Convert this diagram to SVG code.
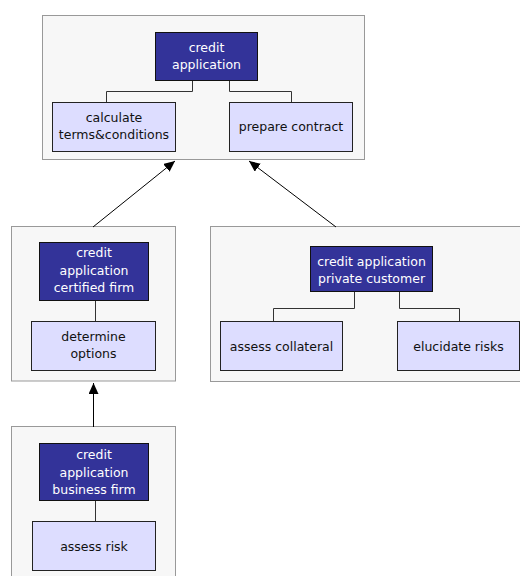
<svg xmlns="http://www.w3.org/2000/svg" width="520" height="576" viewBox="0 0 520 576">
<style>
.cont{fill:#f7f7f7;stroke:#999999;stroke-width:1}
.dark{fill:#333399;stroke:#111111;stroke-width:1}
.light{fill:#ddddff;stroke:#222222;stroke-width:1}
.tw{font-family:"DejaVu Sans",Verdana,sans-serif;font-size:12.5px;fill:#ffffff;text-anchor:middle}
.tb{font-family:"DejaVu Sans",Verdana,sans-serif;font-size:12.5px;fill:#111111;text-anchor:middle}
.link{fill:none;stroke:#333333;stroke-width:1}
.arrow{fill:none;stroke:#000000;stroke-width:1}
</style>
<defs>
<marker id="ah" markerUnits="userSpaceOnUse" markerWidth="12" markerHeight="10" refX="11" refY="5" orient="auto">
<path d="M0,0 L11,5 L0,10 Z" fill="#000000"/>
</marker>
</defs>
<g id="containers">
<rect class="cont" x="42.5" y="15.5" width="322" height="144"/>
<rect class="cont" x="11.5" y="226.5" width="164" height="154.5"/>
<rect class="cont" x="210.5" y="226.5" width="320" height="155"/>
<rect class="cont" x="11.5" y="426.5" width="164" height="160"/>
</g>
<g id="connectors">
<path class="link" d="M192.5,80.5 V91.5 H106.5 V102.5"/>
<path class="link" d="M229.5,80.5 V91.5 H291.5 V102.5"/>
<path class="link" d="M354.5,291.5 V308.5 H273.5 V321.5"/>
<path class="link" d="M399.5,291.5 V308.5 H459.5 V321.5"/>
<path class="link" d="M95.5,300.5 V321.5" stroke="#666666"/>
<path class="link" d="M95.5,500.5 V521.5" stroke="#666666"/>
<path class="arrow" d="M93,227 L175,161" marker-end="url(#ah)"/>
<path class="arrow" d="M336,227 L249,161" marker-end="url(#ah)"/>
<path class="arrow" d="M93.5,427 V383" marker-end="url(#ah)"/>
</g>
<g id="credit-application">
<rect class="dark" x="155.5" y="32.5" width="102" height="48"/>
<text class="tw" x="206.5" y="51.5">credit</text>
<text class="tw" x="206.5" y="68.5">application</text>
</g>
<g id="calculate">
<rect class="light" x="52.5" y="102.5" width="123" height="49"/>
<text class="tb" x="114" y="122">calculate</text>
<text class="tb" x="114" y="139">terms&amp;conditions</text>
</g>
<g id="prepare-contract">
<rect class="light" x="229.5" y="102.5" width="123" height="49"/>
<text class="tb" x="291" y="131">prepare contract</text>
</g>
<g id="certified-firm">
<rect class="dark" x="39.5" y="242.5" width="109" height="58"/>
<text class="tw" x="94" y="257">credit</text>
<text class="tw" x="94" y="274.5">application</text>
<text class="tw" x="94" y="292">certified firm</text>
</g>
<g id="determine-options">
<rect class="light" x="31.5" y="321.5" width="124" height="49"/>
<text class="tb" x="93.5" y="340.5">determine</text>
<text class="tb" x="93.5" y="358">options</text>
</g>
<g id="private-customer">
<rect class="dark" x="310.5" y="246.5" width="122" height="45"/>
<text class="tw" x="371.5" y="265.5">credit application</text>
<text class="tw" x="371.5" y="282.5">private customer</text>
</g>
<g id="assess-collateral">
<rect class="light" x="220.5" y="321.5" width="122" height="49"/>
<text class="tb" x="281.5" y="350.5">assess collateral</text>
</g>
<g id="elucidate-risks">
<rect class="light" x="397.5" y="321.5" width="122" height="49"/>
<text class="tb" x="458.5" y="350.5">elucidate risks</text>
</g>
<g id="business-firm">
<rect class="dark" x="39.5" y="443.5" width="109" height="57"/>
<text class="tw" x="94" y="459">credit</text>
<text class="tw" x="94" y="476.5">application</text>
<text class="tw" x="94" y="494">business firm</text>
</g>
<g id="assess-risk">
<rect class="light" x="32.5" y="521.5" width="123" height="49"/>
<text class="tb" x="94" y="550.5">assess risk</text>
</g>
</svg>
